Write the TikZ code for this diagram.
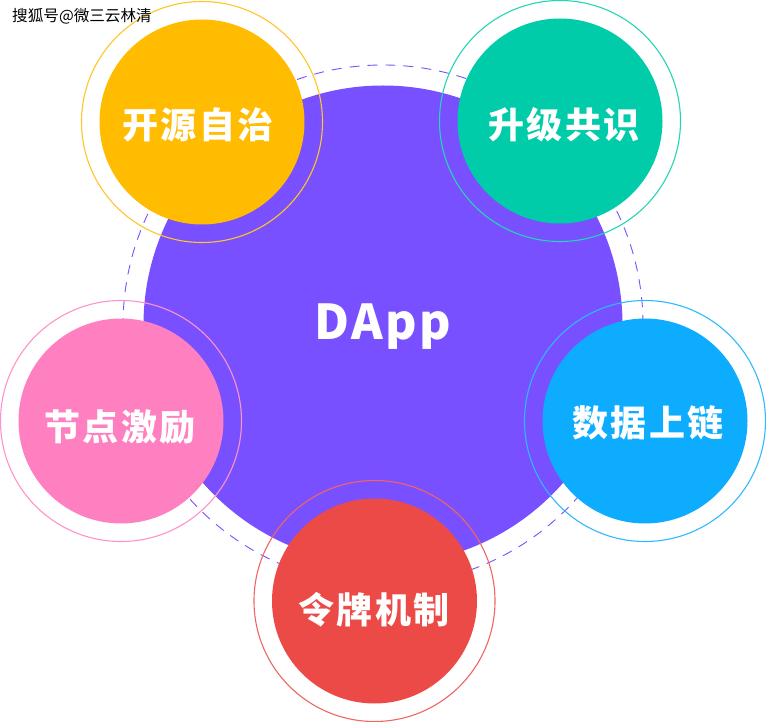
\documentclass[tikz,border=0pt]{standalone}
\usepackage{fontspec}
\newfontfamily\cjk[LetterSpace=6]{Noto Sans CJK SC}
\newfontfamily\dappfont[LetterSpace=5]{Noto Sans CJK SC}
\newfontfamily\markfont{Noto Sans CJK SC}
\definecolor{cpurple}{HTML}{7850FF}
\definecolor{corange}{HTML}{FFBC00}
\definecolor{cgreen}{HTML}{00CCAA}
\definecolor{cblue}{HTML}{0DACFF}
\definecolor{cpink}{HTML}{FF80C0}
\definecolor{cred}{HTML}{EC4A47}
\tikzset{
	disc/.style={circle,inner sep=0pt,minimum size=205pt},
	ring/.style={circle,inner sep=0pt,minimum size=241pt,line width=1.1pt},
	lbl/.style={text=white,font=\cjk\bfseries\fontsize{36}{36}\selectfont}
}
\begin{document}
\begin{tikzpicture}[x=1pt,y=-1pt]
	\useasboundingbox (0,0) rectangle (766,722);
	\path
	(383,325) coordinate (O) (202,122) coordinate (K) (560,121) coordinate (S) (645,421) coordinate (L) (374.5,601) coordinate (M) (121,421) coordinate (J);
	\draw[cpurple,line width=.9pt,dash pattern=on 10pt off 8pt] (O) circle (260pt);
	\node[circle,inner sep=0pt,minimum size=479pt,fill=cpurple] (dapp) at (O) {};
	\foreach \i/\c in {K/corange,S/cgreen,L/cblue,M/cred,J/cpink}{
		\node[ring,draw=\c!85!white] (ring\i) at (\i) {};
		\node[disc,fill=\c] (disc\i) at (\i) {};
	}
	\node[lbl] (tK) at (198,125) {开源自治};
	\node[lbl] (tS) at (564,125) {升级共识};
	\node[lbl] (tL) at (648,423) {数据上链};
	\node[lbl] (tM) at (374,610) {令牌机制};
	\node[lbl] (tJ) at (120,427) {节点激励};
	\node[text=white,font=\dappfont\bfseries\fontsize{48}{48}\selectfont] (tO) at (383,327) {DApp};
	\node[anchor=west,inner sep=0pt,font=\markfont\fontsize{15.6}{16}\selectfont] (mark) at (12,16) {搜狐号@微三云林清};
\end{tikzpicture}
\end{document}
